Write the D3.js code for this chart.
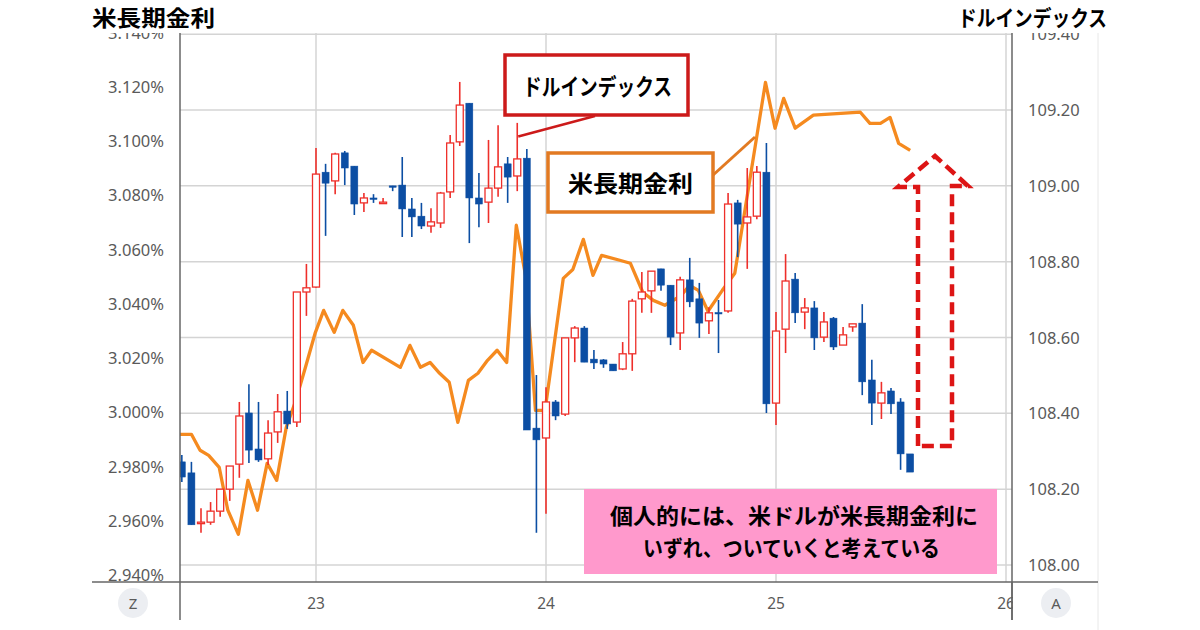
<!DOCTYPE html>
<html><head><meta charset="utf-8">
<script src="https://cdn.jsdelivr.net/npm/d3@7"></script>
<style>html,body{margin:0;padding:0;background:#fff;}svg{display:block;}</style>
</head><body>
<svg id="chart" width="1200" height="630"></svg>
<script>
// ---- data ----
const dayLabels = ["23", "24", "25", "26"];
const dayHours = [0, 24, 48, 72];
const leftTicks = [2.94, 2.96, 2.98, 3.00, 3.02, 3.04, 3.06, 3.08, 3.10, 3.12, 3.14];
const rightTicks = [108.00, 108.20, 108.40, 108.60, 108.80, 109.00, 109.20, 109.40];

// hourly dollar index candles, first one at hour -14 (relative to the 23rd 00:00)
const candleStartHour = -14;
const opens = [108.272,108.243,108.111,108.113,108.142,108.200,108.266,108.401,108.306,108.280,
  108.351,108.406,108.377,108.720,108.733,109.036,109.013,109.087,109.052,108.955,
  108.968,108.955,109.000,109.002,108.939,108.920,108.894,108.902,108.984,109.116,
  109.218,108.968,108.957,108.994,109.058,109.026,109.073,108.361,108.335,108.430,
  108.398,108.599,108.625,108.543,108.541,108.530,108.517,108.557,108.702,108.723,
  108.781,108.738,108.612,108.752,108.702,108.644,108.666,108.670,108.955,108.902,
  108.920,109.036,108.427,108.622,108.754,108.667,108.678,108.601,108.651,108.580,
  108.628,108.638,108.488,108.427,108.459,108.430,108.293];
const highs = [108.290,108.272,108.150,108.166,108.200,108.261,108.430,108.477,108.430,108.382,
  108.451,108.459,108.720,108.794,109.100,109.058,109.087,109.092,109.052,108.981,
  108.978,108.968,109.000,109.076,108.968,108.955,108.941,108.984,109.134,109.274,
  109.218,109.034,109.121,109.160,109.076,109.166,109.097,108.501,108.469,108.435,
  108.599,108.630,108.630,108.567,108.543,108.530,108.588,108.702,108.773,108.775,
  108.781,108.738,108.760,108.810,108.744,108.680,108.699,108.981,108.963,109.047,
  109.052,109.113,108.667,108.820,108.770,108.704,108.696,108.667,108.654,108.628,
  108.636,108.688,108.541,108.483,108.467,108.440,108.293];
const lows = [108.219,108.106,108.085,108.106,108.127,108.169,108.230,108.269,108.272,108.264,
  108.322,108.359,108.364,108.657,108.731,108.868,108.978,109.002,108.923,108.931,
  108.955,108.955,108.986,108.865,108.865,108.886,108.876,108.889,108.968,109.105,
  108.849,108.891,108.902,108.971,108.955,108.986,108.356,108.085,108.135,108.382,
  108.393,108.535,108.535,108.517,108.520,108.512,108.514,108.512,108.665,108.665,
  108.723,108.580,108.567,108.680,108.599,108.609,108.559,108.665,108.812,108.781,
  108.912,108.401,108.369,108.559,108.638,108.622,108.567,108.588,108.567,108.580,
  108.615,108.448,108.369,108.385,108.398,108.251,108.245];
const closes = [108.232,108.106,108.113,108.142,108.200,108.261,108.393,108.303,108.277,108.348,
  108.404,108.372,108.720,108.731,109.031,109.007,109.084,109.047,108.952,108.968,
  108.965,108.957,108.997,108.939,108.918,108.894,108.905,108.981,109.113,109.213,
  108.968,108.952,108.994,109.050,109.023,109.071,108.356,108.330,108.430,108.393,
  108.599,108.625,108.535,108.533,108.530,108.512,108.557,108.696,108.720,108.775,
  108.738,108.601,108.752,108.694,108.638,108.665,108.665,108.952,108.899,108.918,
  109.036,108.425,108.617,108.749,108.665,108.678,108.599,108.641,108.575,108.607,
  108.636,108.483,108.427,108.454,108.425,108.293,108.245];

// US long-term yield (%) line
const yieldHours = [-14.3,-13.0,-12.1,-11.2,-10.1,-9.2,-8.1,-7.1,-6.1,-5.1,
  -4.1,-3.1,-2.1,-1.1,-0.1,0.8,1.9,2.8,3.9,4.9,
  5.8,8.8,9.8,10.9,11.9,12.9,13.9,14.8,15.9,16.9,
  17.9,18.9,19.9,20.9,21.9,22.9,23.9,25.8,26.8,27.9,
  28.9,29.8,31.7,32.8,34.1,35.2,36.4,38.0,39.0,39.9,
  40.9,42.4,43.7,46.9,47.9,48.8,50.0,51.9,56.8,57.8,
  58.9,59.9,60.8,62.0];
const yieldValues = [2.9919,2.9919,2.9860,2.9841,2.9797,2.9639,2.9550,2.9749,2.9639,2.9812,
  2.9749,2.9945,3.0044,3.0166,3.0291,3.0376,3.0295,3.0376,3.0321,3.0184,
  3.0229,3.0166,3.0247,3.0166,3.0184,3.0144,3.0111,2.9963,3.0118,3.0144,
  3.0192,3.0229,3.0184,3.0690,3.0498,3.0007,3.0007,3.0494,3.0527,3.0638,
  3.0505,3.0579,3.0561,3.0550,3.0443,3.0413,3.0395,3.0428,3.0468,3.0450,
  3.0373,3.0450,3.0513,3.1217,3.1048,3.1158,3.1048,3.1096,3.1107,3.1066,
  3.1066,3.1088,3.0992,3.0966];

const titleLeft = "米長期金利";
const titleRight = "ドルインデックス";
const labelDxy = "ドルインデックス";
const labelYield = "米長期金利";
const noteLines = ["個人的には、米ドルが米長期金利に", "いずれ、ついていくと考えている"];

// ---- layout ----
const plotL = 180, plotR = 1012, plotT = 33, plotB = 582;
const svg = d3.select("#chart");
const x = d3.scaleLinear().domain([0, 24]).range([316, 546]);
const yL = d3.scaleLinear().domain([2.94, 3.12]).range([575, 87]);
const yR = d3.scaleLinear().domain([108.0, 109.2]).range([565, 110]);

const RED = "#ee2f2a", BLUE = "#0c4ea3", ORANGE = "#f58a1f", GRID = "#d4d4d4", TXT = "#5a5a5a";
const AXFONT = "'Noto Sans', 'DejaVu Sans', sans-serif";
const JPFONT = "'Noto Sans CJK JP', 'Noto Sans CJK SC', sans-serif";

const defs = svg.append("defs");
defs.append("clipPath").attr("id", "plotclip")
  .append("rect").attr("x", plotL).attr("y", plotT).attr("width", plotR - plotL).attr("height", plotB - plotT);
defs.append("clipPath").attr("id", "labelclip")
  .append("rect").attr("x", 0).attr("y", plotT).attr("width", 1200).attr("height", plotB - plotT + 2);

// grid
const grid = svg.append("g");
grid.selectAll("line.h").data(rightTicks).join("line")
  .attr("x1", plotL).attr("x2", plotR)
  .attr("y1", d => yR(d)).attr("y2", d => yR(d))
  .attr("stroke", GRID).attr("stroke-width", 1.5);
grid.selectAll("line.v").data(dayHours).join("line")
  .attr("x1", d => x(d)).attr("x2", d => x(d))
  .attr("y1", plotT).attr("y2", plotB)
  .attr("stroke", GRID).attr("stroke-width", 1.5);

const plot = svg.append("g").attr("clip-path", "url(#plotclip)");

// yield line
const yieldData = yieldHours.map((h, i) => ({h, v: yieldValues[i]}));
plot.append("path").datum(yieldData)
  .attr("fill", "none").attr("stroke", ORANGE).attr("stroke-width", 3.3)
  .attr("stroke-linejoin", "round")
  .attr("d", d3.line().x(d => x(d.h)).y(d => yL(d.v)));

// candles
const candles = opens.map((o, i) => ({h: candleStartHour + i, o, h2: highs[i], l: lows[i], c: closes[i]}));
const bw = 7;
const cg = plot.selectAll("g.c").data(candles).join("g");
cg.append("line")
  .attr("x1", d => x(d.h)).attr("x2", d => x(d.h))
  .attr("y1", d => yR(d.h2)).attr("y2", d => yR(d.l))
  .attr("stroke", d => d.c >= d.o ? RED : BLUE).attr("stroke-width", 1.6);
cg.append("rect")
  .attr("x", d => x(d.h) - bw / 2)
  .attr("y", d => yR(Math.max(d.o, d.c)))
  .attr("width", bw)
  .attr("height", d => Math.max(1.5, Math.abs(yR(d.o) - yR(d.c))))
  .attr("fill", d => d.c >= d.o ? "#fff" : BLUE)
  .attr("stroke", d => d.c >= d.o ? RED : BLUE)
  .attr("stroke-width", d => d.c >= d.o ? 1.3 : 0.5);

// axes frame
svg.append("line").attr("x1", plotL).attr("x2", plotL).attr("y1", plotT).attr("y2", 620).attr("stroke", "#666").attr("stroke-width", 1.5);
svg.append("line").attr("x1", plotR).attr("x2", plotR).attr("y1", plotT).attr("y2", 620).attr("stroke", "#666").attr("stroke-width", 1.5);
svg.append("line").attr("x1", 1098).attr("x2", 1098).attr("y1", plotT).attr("y2", 630).attr("stroke", "#e8e8e8").attr("stroke-width", 1);

// left axis labels (top one is cut by the title band, as in the source)
svg.append("g").attr("clip-path", "url(#labelclip)")
  .selectAll("text").data(leftTicks).join("text")
  .attr("x", 164).attr("y", d => yL(d) + 6)
  .attr("text-anchor", "end").attr("fill", TXT)
  .style("font-family", AXFONT).style("font-size", "16.5px")
  .text(d => d3.format(".3f")(d) + "%");

// right axis labels
svg.append("g").attr("clip-path", "url(#labelclip)")
  .selectAll("text").data(rightTicks).join("text")
  .attr("x", 1028).attr("y", d => yR(d) + 6)
  .attr("text-anchor", "start").attr("fill", TXT)
  .style("font-family", AXFONT).style("font-size", "16.5px")
  .text(d => d3.format(".2f")(d));

// bottom axis labels
svg.append("g").selectAll("text").data(dayHours).join("text")
  .attr("x", d => x(d)).attr("y", 609)
  .attr("text-anchor", "middle").attr("fill", TXT)
  .style("font-family", AXFONT).style("font-size", "15.5px")
  .text((d, i) => dayLabels[i]);
// right axis panel cover
svg.append("rect").attr("x", plotR + 1).attr("y", plotB + 1).attr("width", 1097 - plotR - 1).attr("height", 47).attr("fill", "#fff");
svg.append("line").attr("x1", plotR).attr("x2", plotR).attr("y1", plotB).attr("y2", 620).attr("stroke", "#666").attr("stroke-width", 1.5);
svg.append("line").attr("x1", 92).attr("x2", 1098).attr("y1", plotB).attr("y2", plotB).attr("stroke", "#666").attr("stroke-width", 1.5);

// Z / A buttons
[[133, "Z"], [1056, "A"]].forEach(([cx, t]) => {
  svg.append("circle").attr("cx", cx).attr("cy", 603).attr("r", 15).attr("fill", "#eceef2");
  svg.append("text").attr("x", cx).attr("y", 608.5).attr("text-anchor", "middle")
    .attr("fill", TXT).style("font-family", AXFONT).style("font-size", "15px").text(t);
});

// titles
svg.append("text").attr("x", 92).attr("y", 26).attr("fill", "#000")
  .style("font-family", JPFONT).style("font-size", "22px").style("font-weight", "bold")
  .attr("textLength", 123).attr("lengthAdjust", "spacingAndGlyphs").text(titleLeft);
svg.append("text").attr("x", 958).attr("y", 26).attr("fill", "#000")
  .style("font-family", JPFONT).style("font-size", "22px").style("font-weight", "bold")
  .attr("textLength", 149).attr("lengthAdjust", "spacingAndGlyphs").text(titleRight);

// annotation: dollar index box
svg.append("line").attr("x1", 595).attr("y1", 116).attr("x2", x(21) + 1).attr("y2", yR(109.13))
  .attr("stroke", "#cc1a1a").attr("stroke-width", 2.5);
svg.append("rect").attr("x", 505).attr("y", 55).attr("width", 183).attr("height", 60)
  .attr("fill", "#fff").attr("stroke", "#cc1a1a").attr("stroke-width", 3.5);
svg.append("text").attr("x", 523).attr("y", 95).attr("fill", "#000")
  .style("font-family", JPFONT).style("font-size", "23px").style("font-weight", "bold")
  .attr("textLength", 149).attr("lengthAdjust", "spacingAndGlyphs").text(labelDxy);

// annotation: yield box
svg.append("line").attr("x1", 712).attr("y1", 176).attr("x2", 755).attr("y2", 137)
  .attr("stroke", "#e27a22").attr("stroke-width", 3);
svg.append("rect").attr("x", 548).attr("y", 153).attr("width", 165).attr("height", 59)
  .attr("fill", "#fff").attr("stroke", "#e27a22").attr("stroke-width", 3.5);
svg.append("text").attr("x", 568).attr("y", 192).attr("fill", "#000")
  .style("font-family", JPFONT).style("font-size", "23px").style("font-weight", "bold")
  .attr("textLength", 125).attr("lengthAdjust", "spacingAndGlyphs").text(labelYield);

// dashed up arrow
svg.append("path")
  .attr("d", "M918,446 L918,187 L898,187 L935,156 L968,186 L952,186 L952,446 Z")
  .attr("fill", "none").attr("stroke", "#dd1515").attr("stroke-width", 4.5)
  .attr("stroke-dasharray", "12,6");

// pink note
svg.append("rect").attr("x", 584).attr("y", 489).attr("width", 413).attr("height", 85).attr("fill", "#ff99cc");
svg.append("text").attr("x", 610).attr("y", 524).attr("fill", "#000")
  .style("font-family", JPFONT).style("font-size", "22px").style("font-weight", "bold")
  .attr("textLength", 368).attr("lengthAdjust", "spacingAndGlyphs").text(noteLines[0]);
svg.append("text").attr("x", 643).attr("y", 556).attr("fill", "#000")
  .style("font-family", JPFONT).style("font-size", "22px").style("font-weight", "bold")
  .attr("textLength", 297).attr("lengthAdjust", "spacingAndGlyphs").text(noteLines[1]);
</script>
</body></html>
